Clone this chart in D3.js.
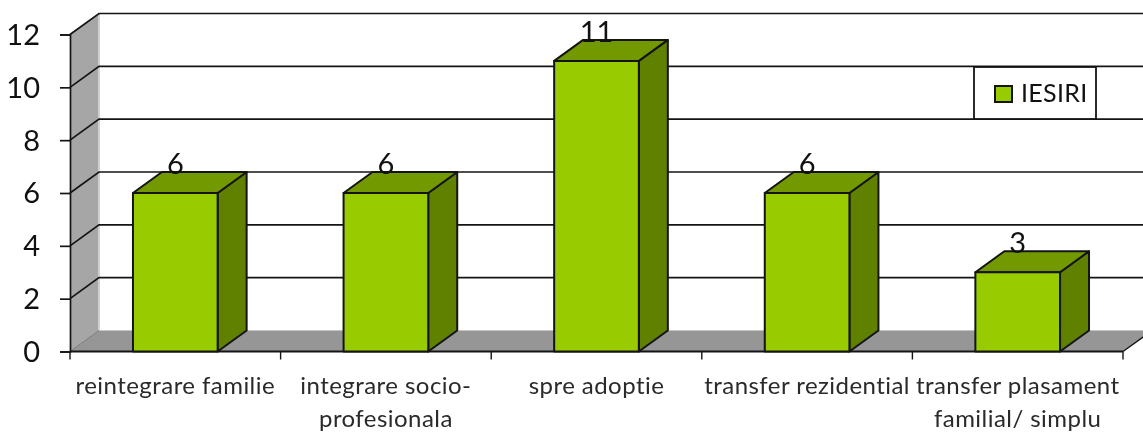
<!DOCTYPE html>
<html><head><meta charset="utf-8">
<script src="https://cdn.jsdelivr.net/npm/d3@7"></script>
<style>html,body{margin:0;padding:0;background:#fff;overflow:hidden}svg{display:block;filter:blur(0.4px)}text{font-family:Lato,"Open Sans",sans-serif}</style>
</head><body><svg id="c" width="1143" height="432"></svg>
<script>
const categories=["reintegrare familie","integrare socio-profesionala","spre adoptie","transfer rezidential","transfer plasament familial/ simplu"];
const categoryLines=[["reintegrare familie"],["integrare socio-","profesionala"],["spre adoptie"],["transfer rezidential"],["transfer plasament","familial/ simplu"]];
const seriesName="IESIRI";
const values=[6,6,11,6,3];
const yTicks=[0,2,4,6,8,10,12];

const svg=d3.select("#c");
const plotLeft=70,plotRight=1123,plotBase=351.5,plotTop=34.5,dx=29,dy=-21;
const x=d3.scaleBand().domain(categories).range([plotLeft,plotRight]);
const y=d3.scaleLinear().domain([0,12]).range([plotBase,plotTop]);
const barW=x.bandwidth()*0.402;
const line="#141414";
const poly=(pts,fill,stroke,sw)=>svg.append("polygon").attr("points",pts.map(p=>p.join(",")).join(" ")).attr("fill",fill).attr("stroke",stroke||"none").attr("stroke-width",sw||0).attr("stroke-linejoin","round");

// walls and floor
poly([[plotLeft,y(0)],[plotLeft+dx,y(0)+dy],[plotLeft+dx,y(12)+dy],[plotLeft,y(12)]],"#a6a6a6");
poly([[plotLeft,y(0)],[plotLeft+dx,y(0)+dy],[plotRight+dx,y(0)+dy],[plotRight,y(0)]],"#969696");
svg.append("line").attr("x1",plotLeft+dx).attr("x2",plotLeft+dx).attr("y1",y(12)+dy).attr("y2",y(0)+dy).attr("stroke","#d0d0d0").attr("stroke-width",2);
svg.append("line").attr("x1",plotLeft+dx).attr("x2",1143).attr("y1",y(0)+dy).attr("y2",y(0)+dy).attr("stroke","#c4c4c4").attr("stroke-width",1);

// gridlines
yTicks.filter(d=>d>0).forEach(d=>{
  svg.append("path").attr("fill","none").attr("stroke",line).attr("stroke-width",1.7)
    .attr("d",d3.line()([[plotLeft,y(d)],[plotLeft+dx,y(d)+dy],[plotRight+dx,y(d)+dy]]));
});
svg.append("path").attr("fill","none").attr("stroke",line).attr("stroke-width",1.4)
  .attr("d",d3.line()([[plotRight,y(0)],[plotRight+dx,y(0)+dy]]));
svg.append("line").attr("x1",plotLeft).attr("x2",plotLeft+dx).attr("y1",y(0)).attr("y2",y(0)+dy).attr("stroke","#7a7a7a").attr("stroke-width",1);

// y axis
const yAxis=d3.axisLeft(y).tickValues(yTicks).tickSize(10).tickPadding(20).tickFormat(d3.format("d"));
const gy=svg.append("g").attr("transform",`translate(${plotLeft},0)`).call(yAxis);
gy.selectAll("path,line").attr("stroke",line).attr("stroke-width",1.7);
gy.selectAll("text").attr("font-size",29).attr("fill","#111").attr("dy","0.34em");

// x axis
const edges=categories.map(c=>x(c)).concat([plotRight]);
svg.append("line").attr("x1",plotLeft).attr("x2",plotRight).attr("y1",y(0)).attr("y2",y(0)).attr("stroke",line).attr("stroke-width",2);
svg.selectAll(".xt").data(edges).join("line").attr("x1",d=>d).attr("x2",d=>d).attr("y1",y(0)).attr("y2",y(0)+8).attr("stroke",line).attr("stroke-width",1.4);
categories.forEach((c,i)=>{
  const t=svg.append("text").attr("text-anchor","middle").attr("font-size",24).attr("letter-spacing",0.45).attr("fill","#2a2a2a");
  categoryLines[i].forEach((l,j)=>t.append("tspan").attr("x",x(c)+x.bandwidth()/2).attr("y",394+j*33).text(l));
});

// bars
values.forEach((v,i)=>{
  const cx=x(categories[i])+x.bandwidth()/2,x0=cx-barW/2,x1=cx+barW/2,yt=y(v),yb=y(0);
  poly([[x1,yb],[x1+dx,yb+dy],[x1+dx,yt+dy],[x1,yt]],"#608000",line,2);
  poly([[x0,yt],[x0+dx,yt+dy],[x1+dx,yt+dy],[x1,yt]],"#739900",line,2);
  poly([[x0,yb],[x1,yb],[x1,yt],[x0,yt]],"#99CC00",line,2);
  svg.append("text").attr("x",cx).attr("y",yt-19).attr("text-anchor","middle").attr("font-size",29).attr("fill","#111").text(v);
});

// legend
svg.append("rect").attr("x",974).attr("y",67).attr("width",122).attr("height",52).attr("fill","#fff").attr("stroke",line).attr("stroke-width",1.8);
svg.append("rect").attr("x",995).attr("y",86).attr("width",17).attr("height",16).attr("fill","#99CC00").attr("stroke",line).attr("stroke-width",2);
svg.append("text").attr("x",1021).attr("y",102).attr("font-size",25).attr("letter-spacing",0.3).attr("fill","#111").text(seriesName);
</script></body></html>
